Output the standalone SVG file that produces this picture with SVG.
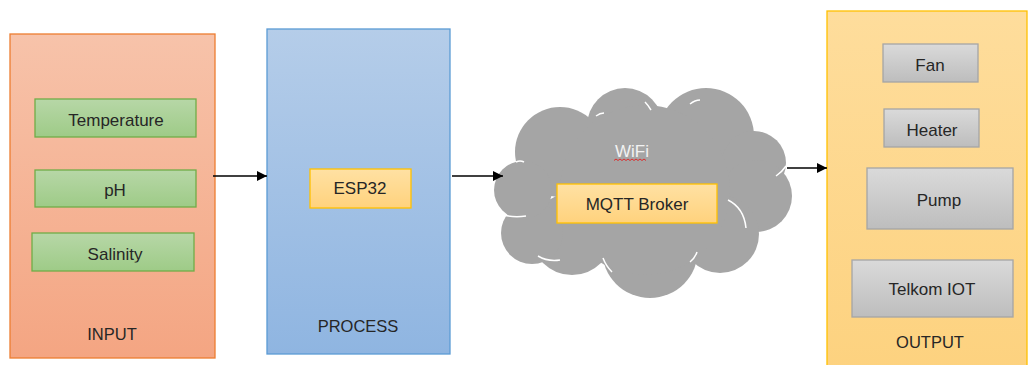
<svg xmlns="http://www.w3.org/2000/svg" width="1028" height="365" viewBox="0 0 1028 365">
<defs>
<linearGradient id="gIn" x1="0" y1="0" x2="0" y2="1"><stop offset="0" stop-color="#f7c3aa"/><stop offset="1" stop-color="#f4a582"/></linearGradient>
<linearGradient id="gProc" x1="0" y1="0" x2="0" y2="1"><stop offset="0" stop-color="#b5cde9"/><stop offset="1" stop-color="#8fb5e1"/></linearGradient>
<linearGradient id="gOut" x1="0" y1="0" x2="0" y2="1"><stop offset="0" stop-color="#fedd9c"/><stop offset="1" stop-color="#fdd27f"/></linearGradient>
<linearGradient id="gGreen" x1="0" y1="0" x2="0" y2="1"><stop offset="0" stop-color="#b7d7a7"/><stop offset="1" stop-color="#9ecb87"/></linearGradient>
<linearGradient id="gYel" x1="0" y1="0" x2="0" y2="1"><stop offset="0" stop-color="#ffe1a3"/><stop offset="1" stop-color="#ffd27d"/></linearGradient>
<linearGradient id="gGray" x1="0" y1="0" x2="0" y2="1"><stop offset="0" stop-color="#dadada"/><stop offset="1" stop-color="#bdbdbd"/></linearGradient>
<marker id="arr" viewBox="0 0 10 10" refX="10" refY="5" markerWidth="10" markerHeight="10" markerUnits="userSpaceOnUse" orient="auto"><path d="M0,0 L10,5 L0,10 z" fill="#000"/></marker>
<clipPath id="clipSal"><rect x="32" y="233" width="162" height="29.5"/></clipPath>
</defs>
<style>
text{font-family:"Liberation Sans",Arial,sans-serif;font-size:17px;fill:#262626;text-anchor:middle}
.lbl{font-size:16.5px}
.green{fill:url(#gGreen);stroke:#70ad47;stroke-width:1.3}
.yel{fill:url(#gYel);stroke:#ffc000;stroke-width:1.3}
.gray{fill:url(#gGray);stroke:#a5a5a5;stroke-width:1.3}
.conn{stroke:#000;stroke-width:1.3;fill:none;marker-end:url(#arr)}
.cl{fill:#a5a5a5}
.ca{fill:none;stroke:#ffffff;stroke-width:1.5}
</style>

<g id="input">
<rect x="10" y="34" width="205" height="324" fill="url(#gIn)" stroke="#ed7d31" stroke-width="1.3"/>
<text x="112" y="340" class="lbl">INPUT</text>
</g>
<g id="temperature">
<rect class="green" x="35" y="99" width="161" height="38"/>
<text x="116" y="126">Temperature</text>
</g>
<g id="ph">
<rect class="green" x="35" y="170" width="161" height="37"/>
<text x="115" y="196">pH</text>
</g>
<g id="salinity">
<rect class="green" x="32" y="233" width="162" height="38"/>
<text x="115" y="260" clip-path="url(#clipSal)">Salinity</text>
</g>

<g id="process">
<rect x="267" y="29" width="183" height="325" fill="url(#gProc)" stroke="#5b9bd5" stroke-width="1.3"/>
<text x="358" y="332" class="lbl">PROCESS</text>
</g>
<g id="esp32">
<rect class="yel" x="310" y="169" width="101" height="39"/>
<text x="360" y="194">ESP32</text>
</g>

<g id="cloud">
<circle class="cl" cx="560" cy="152" r="45"/>
<circle class="cl" cx="625" cy="126" r="38"/>
<circle class="cl" cx="706" cy="136" r="48"/>
<circle class="cl" cx="754" cy="163" r="32"/>
<circle class="cl" cx="756" cy="196" r="36"/>
<circle class="cl" cx="720" cy="234" r="39"/>
<circle class="cl" cx="650" cy="250" r="48"/>
<circle class="cl" cx="572" cy="234" r="41"/>
<circle class="cl" cx="532" cy="233" r="31"/>
<circle class="cl" cx="523" cy="190" r="29"/>
<circle class="cl" cx="645" cy="190" r="85"/>
<path class="ca" d="M500,214 Q512,218 526,216"/>
<path class="ca" d="M538,256 Q548,262 560,260"/>
<path class="ca" d="M603,258 Q606,266 612,272"/>
<path class="ca" d="M690,262 Q695,258 697,252"/>
<path class="ca" d="M728,200 Q744,208 746,228"/>
<path class="ca" d="M776,176 Q782,172 786,166"/>
<path class="ca" d="M758,118 Q765,116 770,118"/>
<path class="ca" d="M690,104 Q695,100 700,100"/>
<path class="ca" d="M645,102 Q648,105 651,110"/>
<path class="ca" d="M596,116 Q600,113 604,113"/>
<path class="ca" d="M516,162 Q520,160 524,162"/>
<text x="632" y="157" style="fill:#f2f2f2">WiFi</text>
<path d="M614,160.5 l2,-1.5 l2,1.5 l2,-1.5 l2,1.5 l2,-1.5 l2,1.5 l2,-1.5 l2,1.5 l2,-1.5 l2,1.5 l2,-1.5 l2,1.5 l2,-1.5 l2,1.5 l2,-1.5 l2,1.5" fill="none" stroke="#e02020" stroke-width="0.9"/>
</g>
<g id="mqtt">
<rect class="yel" x="557" y="184" width="160" height="39"/>
<text x="637" y="210">MQTT Broker</text>
</g>

<g id="output">
<rect x="827" y="11" width="200" height="360" fill="url(#gOut)" stroke="#ffc000" stroke-width="1.3"/>
<text x="930" y="348" class="lbl">OUTPUT</text>
</g>
<g id="fan">
<rect class="gray" x="883" y="44" width="95" height="38"/>
<text x="930" y="71">Fan</text>
</g>
<g id="heater">
<rect class="gray" x="884" y="109" width="95" height="38"/>
<text x="932" y="136">Heater</text>
</g>
<g id="pump">
<rect class="gray" x="867" y="168" width="146" height="61"/>
<text x="939" y="206">Pump</text>
</g>
<g id="telkom">
<rect class="gray" x="852" y="260" width="161" height="57"/>
<text x="932" y="295">Telkom IOT</text>
</g>

<g id="connectors">
<line class="conn" x1="213" y1="176" x2="267" y2="176"/>
<line class="conn" x1="452" y1="176" x2="503" y2="176"/>
<line class="conn" x1="787" y1="168" x2="827" y2="168"/>
</g>
</svg>
